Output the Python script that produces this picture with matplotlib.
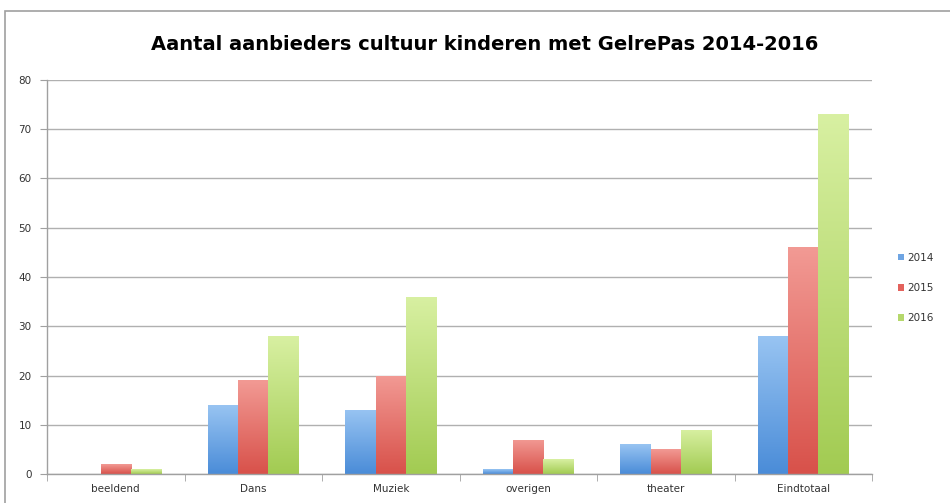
import numpy as np
import matplotlib
matplotlib.use("Agg")
import matplotlib.pyplot as plt
from matplotlib.patches import Rectangle
from matplotlib.colors import LinearSegmentedColormap

categories = ["beeldend", "Dans", "Muziek", "overigen", "theater", "Eindtotaal"]
years = ["2014", "2015", "2016"]
v2014 = [0, 14, 13, 1, 6, 28]
v2015 = [2, 19, 20, 7, 5, 46]
v2016 = [1, 28, 36, 3, 9, 73]

colors = ["#6fa5e3", "#e3625c", "#b5d86c"]
# bottom -> top gradient per series
grads = [("#4a8cd8", "#98c4f2"), ("#d8514a", "#f29a94"), ("#a2cb52", "#d8f0a2")]

fig = plt.figure(figsize=(9.5, 5.03), dpi=100)
# outer chart frame
fig.patches.append(Rectangle((5 / 950, -0.1), 1.0, 1 - 11 / 503 + 0.1,
                             transform=fig.transFigure, fill=False,
                             edgecolor="#a0a0a0", linewidth=1.2))

ax = fig.add_axes([47 / 950, 29 / 503, 825 / 950, 394 / 503])

x = np.arange(len(categories))
w = 0.22
grad_img = np.linspace(0, 1, 256).reshape(-1, 1)
for i, (vals, c, lab, g) in enumerate(zip([v2014, v2015, v2016], colors, years, grads)):
    bars = ax.bar(x + (i - 1) * w, vals, w, color=c, label=lab, zorder=2)
    cmap = LinearSegmentedColormap.from_list("g%d" % i, list(g))
    for b in bars:
        bx, by = b.get_x(), b.get_y()
        bw, bh = b.get_width(), b.get_height()
        if bh <= 0:
            continue
        im = ax.imshow(grad_img, cmap=cmap, origin="lower", aspect="auto",
                       extent=[bx, bx + bw, by, by + bh], zorder=2.5)
        im.set_clip_path(b)

ax.set_xlim(-0.5, len(categories) - 0.5)
ax.set_ylim(0, 80)
ax.set_yticks(range(0, 81, 10))
ax.set_xticks(x)
ax.set_xticklabels(categories)
ax.set_xticks(np.arange(-0.5, len(categories)), minor=True)
ax.tick_params(axis="x", which="major", length=0, labelsize=7.5, colors="#333333", pad=7)
ax.tick_params(axis="x", which="minor", length=5, color="#a0a0a0", direction="out")
ax.tick_params(axis="y", length=5, color="#a0a0a0", labelsize=7.5, labelcolor="#333333", pad=6)
ax.grid(axis="y", color="#b0b0b0", linewidth=1, zorder=0)
for s in ["top", "right"]:
    ax.spines[s].set_visible(False)
for s in ["left", "bottom"]:
    ax.spines[s].set_color("#a0a0a0")
    ax.spines[s].set_linewidth(1)
    ax.spines[s].set_zorder(3)

leg = ax.legend(loc="center left", bbox_to_anchor=(1.02, 0.472), frameon=False,
                fontsize=7.5, handlelength=0.6, handleheight=0.6,
                handletextpad=0.3, labelspacing=1.95)
for t in leg.get_texts():
    t.set_color("#333333")

fig.text(485 / 950, 1 - 45 / 503, "Aantal aanbieders cultuur kinderen met GelrePas 2014-2016",
         ha="center", va="center", fontsize=14, fontweight="bold")

fig.savefig("out.png", dpi=100)
